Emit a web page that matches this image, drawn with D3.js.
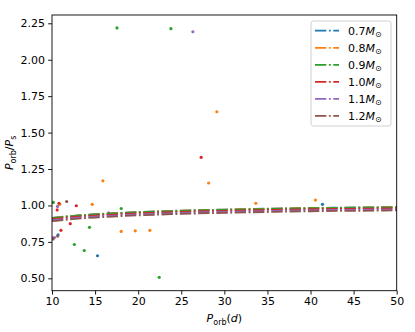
<!DOCTYPE html>
<html><head><meta charset="utf-8">
<script src="https://cdn.jsdelivr.net/npm/d3@7"></script>
<style>
body{margin:0;background:#fff;}
svg text{font-family:"DejaVu Sans",sans-serif;}
</style></head>
<body><svg id="c" width="415" height="332"></svg>
<script>
// ---- data ----
const masses = ["0.7", "0.8", "0.9", "1.0", "1.1", "1.2"];
const colors = ["#1f77b4", "#ff7f0e", "#2ca02c", "#d62728", "#9467bd", "#8c564b"];
const xTicks = [10, 15, 20, 25, 30, 35, 40, 45, 50];
const yTicks = [0.50, 0.75, 1.00, 1.25, 1.50, 1.75, 2.00, 2.25];
const linePorb = [10, 11, 12, 13, 14, 15, 17.5, 20, 22.5, 25, 30, 35, 40, 45, 50];
const line07 = [0.915,0.921,0.927,0.932,0.936,0.940,0.948,0.955,0.960,0.965,0.972,0.978,0.983,0.986,0.989];
const line08 = [0.914,0.920,0.926,0.931,0.935,0.939,0.947,0.954,0.959,0.964,0.971,0.977,0.982,0.985,0.988];
const line09 = [0.913,0.919,0.925,0.930,0.934,0.938,0.946,0.953,0.958,0.963,0.970,0.976,0.981,0.984,0.987];
const line10 = [0.906,0.912,0.918,0.923,0.927,0.931,0.939,0.946,0.951,0.956,0.963,0.969,0.974,0.977,0.980];
const line11 = [0.899,0.905,0.911,0.916,0.920,0.924,0.932,0.939,0.944,0.949,0.956,0.962,0.967,0.970,0.973];
const line12 = [0.892,0.898,0.904,0.909,0.913,0.917,0.925,0.932,0.937,0.942,0.949,0.955,0.960,0.963,0.966];
// scatter points [Porb, ratio]
const pts07 = [[15.28,0.655],[41.39,1.008],[10.70,0.799]];
const pts08 = [[10.89,1.008],[14.67,1.008],[15.91,1.169],[18.03,0.822],[19.66,0.826],[21.36,0.829],[28.17,1.154],[29.13,1.643],[33.65,1.015],[40.57,1.037]];
const pts09 = [[10.15,1.021],[17.54,2.218],[23.80,2.213],[18.03,0.979],[14.35,0.850],[12.59,0.732],[13.74,0.691],[22.44,0.507]];
const pts10 = [[10.81,1.015],[10.60,0.969],[12.82,0.998],[12.12,0.875],[11.04,0.829],[27.31,1.330]];
const pts11 = [[26.35,2.192],[10.64,0.993],[10.06,0.778],[10.29,0.780],[16.57,0.950]];
const pts12 = [[11.70,1.027],[10.66,0.790],[10.12,0.770]];

const lines = [line07, line08, line09, line10, line11, line12];
const pts = [pts07, pts08, pts09, pts10, pts11, pts12];

// ---- layout ----
const svg = d3.select("#c");
const L = 52, R = 396.7, T = 15, B = 290.7;
const x = d3.scaleLinear().domain([10, 50]).range([L, R]);
const y = d3.scaleLinear().domain([0.415, 2.307]).range([B, T]);

svg.append("defs").append("clipPath").attr("id", "clip")
  .append("rect").attr("x", L).attr("y", T).attr("width", R - L).attr("height", B - T);

const plot = svg.append("g").attr("clip-path", "url(#clip)");

// scatter
pts.forEach((arr, i) => {
  plot.selectAll(null).data(arr).enter().append("circle")
    .attr("cx", d => x(d[0])).attr("cy", d => y(d[1])).attr("r", 1.6)
    .attr("fill", colors[i]);
});

// lines
const dash = "11.3,2.6,1.8,2.6";
const lineGen = d3.line().x(d => x(d[0])).y(d => y(d[1])).curve(d3.curveMonotoneX);
lines.forEach((vals, i) => {
  plot.append("path").datum(linePorb.map((p, k) => [p, vals[k]]))
    .attr("d", lineGen).attr("fill", "none").attr("stroke", colors[i])
    .attr("stroke-width", 1.75).attr("stroke-dasharray", dash);
});

// axes
const xAxis = d3.axisBottom(x).tickValues(xTicks).tickFormat(d3.format("d")).tickSize(3.9).tickPadding(3);
const yAxis = d3.axisLeft(y).tickValues(yTicks).tickFormat(d3.format(".2f")).tickSize(3.9).tickPadding(3);
const gx = svg.append("g").attr("transform", `translate(0,${B})`).call(xAxis);
const gy = svg.append("g").attr("transform", `translate(${L},0)`).call(yAxis);
[gx, gy].forEach(g => {
  g.select(".domain").remove();
  g.selectAll("text").attr("font-size", 11).attr("fill", "#000").attr("font-family", "DejaVu Sans");
  g.selectAll("line").attr("stroke", "#000").attr("stroke-width", 0.9);
});
svg.append("rect").attr("x", L).attr("y", T).attr("width", R - L).attr("height", B - T)
  .attr("fill", "none").attr("stroke", "#000").attr("stroke-width", 0.9);

// axis labels
const xl = svg.append("text").attr("x", (L + R) / 2).attr("y", 322).attr("text-anchor", "middle").attr("font-size", 11);
xl.append("tspan").attr("font-style", "italic").text("P");
xl.append("tspan").attr("font-size", 8).attr("dy", 2.5).text("orb");
xl.append("tspan").attr("dy", -2.5).text("(");
xl.append("tspan").attr("font-style", "italic").text("d");
xl.append("tspan").text(")");

const yl = svg.append("text").attr("transform", `translate(13,${(T + B) / 2}) rotate(-90)`)
  .attr("text-anchor", "middle").attr("font-size", 11);
yl.append("tspan").attr("font-style", "italic").text("P");
yl.append("tspan").attr("font-size", 8).attr("dy", 2.5).text("orb");
yl.append("tspan").attr("dy", -2.5).text("/");
yl.append("tspan").attr("font-style", "italic").text("P");
yl.append("tspan").attr("font-size", 8).attr("dy", 2.5).text("s");

// legend
const lg = svg.append("g");
lg.append("rect").attr("x", 311).attr("y", 21).attr("width", 80).attr("height", 105).attr("rx", 2.5)
  .attr("fill", "#fff").attr("fill-opacity", 0.8).attr("stroke", "#cccccc").attr("stroke-width", 0.9);
masses.forEach((m, i) => {
  const cy = 30.7 + i * 17.05;
  lg.append("line").attr("x1", 315).attr("x2", 339).attr("y1", cy).attr("y2", cy)
    .attr("stroke", colors[i]).attr("stroke-width", 1.75).attr("stroke-dasharray", dash);
  const t = lg.append("text").attr("x", 348).attr("y", cy + 4).attr("font-size", 11);
  t.append("tspan").text(m);
  t.append("tspan").attr("font-style", "italic").text("M");
  t.append("tspan").attr("font-size", 8).attr("dy", 2.5).text("\u2299");
});
</script></body></html>
